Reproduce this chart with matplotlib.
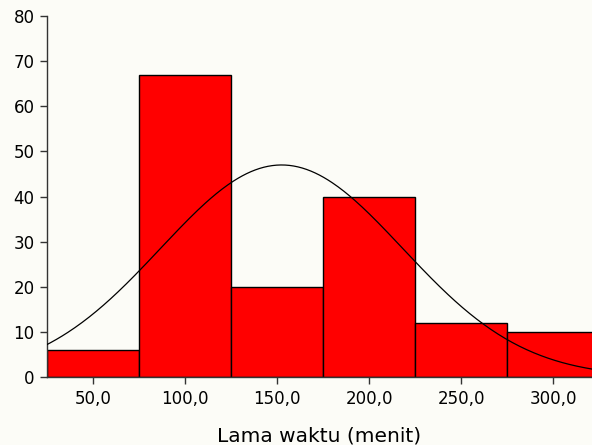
import numpy as np
import matplotlib
matplotlib.use("Agg")
import matplotlib.pyplot as plt

# Data
bin_centers = [50, 100, 150, 200, 250, 300]
counts = [6, 67, 20, 40, 12, 10]
bin_width = 50
tick_labels = ["50,0", "100,0", "150,0", "200,0", "250,0", "300,0"]
y_ticks = [0, 10, 20, 30, 40, 50, 60, 70, 80]
# fitted normal curve parameters (as drawn)
curve_mean = 152.5
curve_sd = 65.8
n_total = sum(counts)

plt.rcParams['font.family'] = ['DejaVu Sans']

fig = plt.figure(figsize=(5.92, 4.45), dpi=100)
bg = '#fcfcf7'
fig.patch.set_facecolor(bg)
ax = fig.add_axes([47/592, 68/445, 1 - 47/592, (377-16)/445])
ax.set_facecolor(bg)

ax.bar(bin_centers, counts, width=bin_width, color='#ff0000', edgecolor='black',
       linewidth=1.0, zorder=2)

xs = np.linspace(20, 330, 400)
ys = n_total * bin_width / (curve_sd * np.sqrt(2 * np.pi)) * np.exp(-0.5 * ((xs - curve_mean) / curve_sd) ** 2)
ax.plot(xs, ys, color='black', linewidth=0.9, zorder=3)

ax.set_xlim(25, 25 + (592 - 47) / 1.84)
ax.set_ylim(0, 80)
ax.set_xticks(bin_centers)
ax.set_xticklabels(tick_labels, fontsize=12)
ax.set_yticks(y_ticks)
ax.set_yticklabels([str(v) for v in y_ticks], fontsize=12)
ax.tick_params(axis='both', length=5, width=1, color='#333333', pad=4)
for s in ['top', 'right']:
    ax.spines[s].set_visible(False)
for s in ['left', 'bottom']:
    ax.spines[s].set_color('#333333')
    ax.spines[s].set_linewidth(1.0)
ax.set_xlabel("Lama waktu (menit)", fontsize=14.5, labelpad=14)

fig.savefig("out.png", dpi=100, facecolor=bg)
